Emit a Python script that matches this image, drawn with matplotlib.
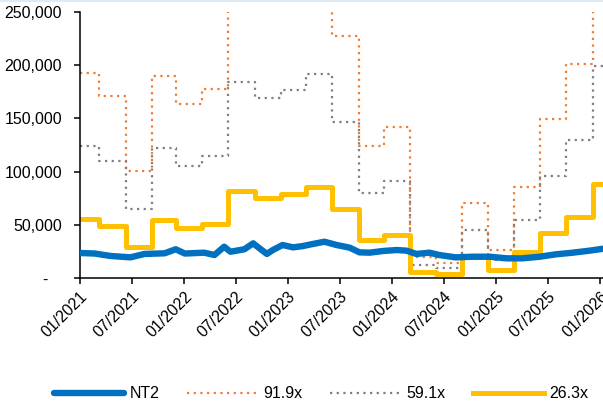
import matplotlib
matplotlib.use("Agg")
import matplotlib.dates as mdates
import numpy as np
import pandas as pd
from matplotlib import pyplot as plt
from matplotlib.lines import Line2D
from matplotlib.ticker import FuncFormatter

plt.rcParams["font.family"] = ["Liberation Sans", "DejaVu Sans"]

# NT2 share price
price_dates = [
    "2021-01-01", "2021-02-22", "2021-04-18", "2021-06-27", "2021-08-15", "2021-10-25",
    "2021-12-03", "2022-01-04", "2022-03-13", "2022-04-18", "2022-05-22", "2022-06-13",
    "2022-08-01", "2022-09-01", "2022-09-16", "2022-10-19", "2022-11-09", "2022-12-13",
    "2023-01-19", "2023-02-22", "2023-03-28", "2023-05-09", "2023-06-21", "2023-08-06",
    "2023-09-09", "2023-10-15", "2023-12-01", "2024-01-18", "2024-02-21", "2024-03-27",
    "2024-05-12", "2024-06-15", "2024-08-12", "2024-10-09", "2024-12-09", "2025-02-06",
    "2025-04-03", "2025-06-03", "2025-07-28", "2025-09-27", "2025-11-25", "2026-01-11",
]
price = [
    23500, 23000, 20700, 19400, 22600, 23200,
    27000, 23000, 23800, 21600, 29400, 24700,
    27000, 32600, 29400, 22600, 26300, 31000,
    28800, 30000, 31900, 34100, 31000, 28500,
    24100, 23800, 25400, 26300, 25700, 22600,
    23800, 21600, 19400, 20000, 20000, 18500,
    18500, 20000, 22200, 23800, 25700, 27500,
]

# trailing earnings per share, changing at each results date
eps_dates = [
    "2021-01-01", "2021-03-10", "2021-06-10", "2021-09-10", "2021-12-05",
    "2022-03-04", "2022-06-05", "2022-09-07", "2022-12-07", "2023-03-05",
    "2023-06-05", "2023-09-07", "2023-12-04", "2024-03-04", "2024-06-04",
    "2024-09-04", "2024-12-04", "2025-03-04", "2025-06-04", "2025-09-04",
    "2025-12-07",
]
eps = [
    2100, 1860, 1090, 2067, 1778,
    1935, 3120, 2860, 2990, 3250,
    2475, 1350, 1546, 210, 156,
    764, 285, 930, 1625, 2188,
    3376,
]
end_date = "2026-01-11"

multiples = [91.9, 59.1, 26.3]
band_labels = ["91.9x", "59.1x", "26.3x"]
band_colors = ["#ED7D31", "#7F7F7F", "#FFC000"]

x_ticks = pd.date_range("2021-01-01", "2026-01-01", freq="6MS")

fig = plt.figure(figsize=(6.03, 4.07), dpi=100)
ax = fig.add_axes([80 / 603, 1 - 278 / 407, 523 / 603, 266 / 407])

ax.plot(pd.to_datetime(price_dates), price, color="#0070C0", lw=4.6,
        solid_capstyle="round", solid_joinstyle="round", label="NT2", zorder=3)

step_x = pd.to_datetime(eps_dates + [end_date])
for mult, lab, col in zip(multiples, band_labels, band_colors):
    vals = np.array(eps + [eps[-1]]) * mult
    if lab == "26.3x":
        ax.plot(step_x, vals, drawstyle="steps-post", color=col, lw=3.6,
                label=lab, zorder=2)
    else:
        ax.plot(step_x, vals, drawstyle="steps-post", color=col, lw=1.6,
                linestyle=(0, (1, 2)), label=lab, zorder=1)

ax.set_xlim(pd.Timestamp("2021-01-01"), pd.Timestamp(end_date))
ax.set_ylim(0, 250000)
ax.set_yticks(np.arange(0, 250001, 50000))
ax.yaxis.set_major_formatter(
    FuncFormatter(lambda v, p: "-   " if v == 0 else f"{int(v):,}"))
ax.set_xticks(x_ticks)
ax.xaxis.set_major_formatter(mdates.DateFormatter("%m/%Y"))

for s in ["top", "right"]:
    ax.spines[s].set_visible(False)
for s in ["left", "bottom"]:
    ax.spines[s].set_linewidth(1.1)
    ax.spines[s].set_color("black")

ax.tick_params(axis="y", length=4, width=1.1, pad=9, labelsize=11.5)
ax.tick_params(axis="x", length=4, width=1.1, pad=4, labelsize=11.5)
for t in ax.get_xticklabels():
    t.set_rotation(45)
    t.set_ha("right")
    t.set_rotation_mode("anchor")

ax.legend(loc="center", bbox_to_anchor=(321 / 603, 1 - 394 / 407),
          bbox_transform=fig.transFigure, ncol=4, frameon=False,
          fontsize=11.5, handlelength=4.4, handletextpad=0.35,
          columnspacing=1.75)

# thin light-blue rule along the top edge
fig.add_artist(Line2D([0, 1], [0.998, 0.998], transform=fig.transFigure,
                      color="#DDEBF7", lw=1.5))

fig.savefig("out.png", dpi=100)
plt.close()
